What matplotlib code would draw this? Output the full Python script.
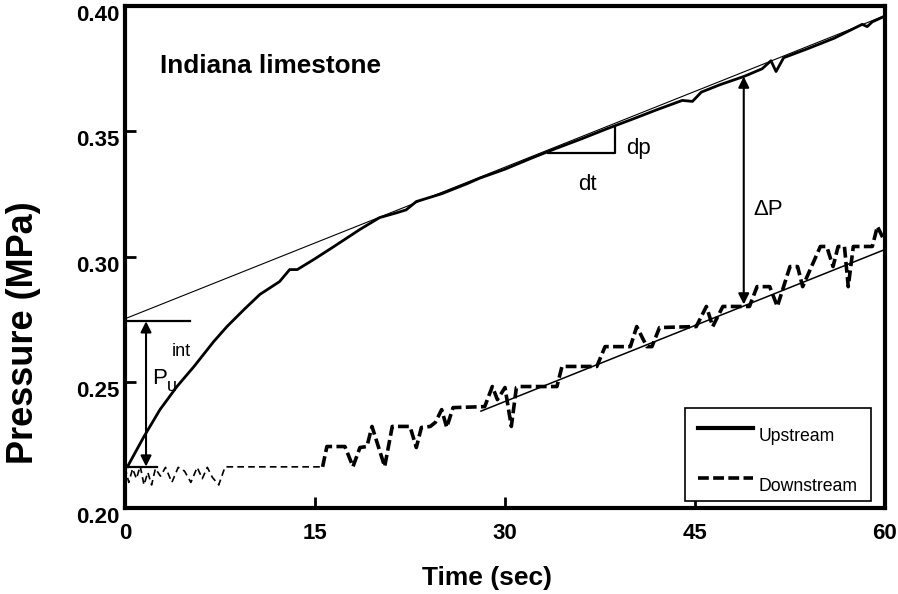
import matplotlib
matplotlib.use("Agg")
import matplotlib.pyplot as plt
from matplotlib.lines import Line2D
from matplotlib.transforms import ScaledTranslation

plt.rcParams['font.family'] = ['Liberation Sans', 'DejaVu Sans']

# ---------------- data ----------------
up_t = [0.2, 1.5, 2.76, 4.1, 5.45, 7.0, 8.05, 9.4, 10.65, 12.2, 13.0, 13.6, 14.9,
        16.5, 18.55, 20.1, 21.5, 22.2, 23.0, 25.0, 27.0, 28.0, 30.0, 32.0, 34.0,
        36.0, 38.0, 40.0, 42.0, 44.0, 44.8, 45.5, 47.0, 48.9, 50.3, 51.0, 51.4,
        52.0, 54.0, 56.0, 58.2, 58.6, 59.0, 60.0]
up_p = [0.2163, 0.2283, 0.2390, 0.2482, 0.2562, 0.2661, 0.2721, 0.2789, 0.2849,
        0.2900, 0.2948, 0.2948, 0.2988, 0.3040, 0.3108, 0.3155, 0.3175, 0.3186,
        0.3219, 0.3250, 0.3290, 0.3312, 0.3348, 0.3390, 0.3430, 0.3468, 0.3508,
        0.3546, 0.3585, 0.3622, 0.3618, 0.3655, 0.3685, 0.3718, 0.3748, 0.3780,
        0.3737, 0.3792, 0.3830, 0.3870, 0.3925, 0.3916, 0.3935, 0.3958]

# downstream: early noisy part
dn0_t = [0.0, 0.3, 0.6, 0.9, 1.2, 1.5, 1.8, 2.1, 2.4, 2.8, 3.2, 3.7, 4.2, 4.7,
         5.2, 5.7, 6.1, 6.5, 6.9, 7.4, 7.9, 15.6]
dn0_p = [0.2160, 0.2100, 0.2155, 0.2115, 0.2165, 0.2090, 0.2140, 0.2090, 0.2155,
         0.2125, 0.2160, 0.2100, 0.2160, 0.2145, 0.2100, 0.2160, 0.2115, 0.2160,
         0.2120, 0.2090, 0.2162, 0.2162]
# downstream: later part
dn_t = [15.6, 15.94, 17.36, 18.0, 18.55, 19.1, 19.5, 20.5, 21.1, 22.5, 23.0, 23.4,
        24.1, 24.5, 25.0, 25.4, 25.9, 28.4, 29.0, 29.4, 30.0, 30.5, 30.9, 31.2,
        34.1, 34.5, 37.25, 37.9, 39.9, 40.4, 41.2, 41.6, 42.2, 45.1, 45.9, 46.4,
        47.2, 49.3, 49.9, 50.9, 51.5, 52.5, 53.1, 53.5, 54.9, 55.4, 55.9, 56.3,
        56.8, 57.1, 57.5, 59.0, 59.4, 59.9]
dn_p = [0.2162, 0.2243, 0.2243, 0.2163, 0.2239, 0.2243, 0.2323, 0.2163, 0.2323,
        0.2323, 0.2239, 0.2319, 0.2323, 0.2339, 0.2390, 0.2319, 0.2398, 0.2402,
        0.2482, 0.2430, 0.2478, 0.2323, 0.2478, 0.2482, 0.2482, 0.2562, 0.2562,
        0.2641, 0.2641, 0.2721, 0.2641, 0.2641, 0.2717, 0.2721, 0.2801, 0.2721,
        0.2801, 0.2801, 0.2880, 0.2880, 0.2801, 0.2960, 0.2960, 0.2880, 0.3040,
        0.3040, 0.2960, 0.3040, 0.3040, 0.2880, 0.3040, 0.3040, 0.3120, 0.3068]

# fitted straight lines
tan_t = [0.0, 60.0]
tan_p = [0.2752, 0.3960]
dfit_t = [28.1, 60.0]
dfit_p = [0.2384, 0.3028]

# annotation values
p_int = 0.2742
p_start = 0.2163
dP_t = 48.85
dP_top = 0.3717
dP_bot = 0.2809
tri_t = [33.4, 38.7, 38.7]
tri_p = [0.3414, 0.3414, 0.3514]

xticks = [0, 15, 30, 45, 60]
yticks = [0.20, 0.25, 0.30, 0.35, 0.40]

# ---------------- figure ----------------
fig = plt.figure(figsize=(8.98, 5.94), dpi=100)
ax = fig.add_axes([0.1392, 0.1456, 0.8463, 0.8451])

ax.plot(tan_t, tan_p, color='k', lw=0.8)
ax.plot(up_t, up_p, color='k', lw=2.0, solid_joinstyle='round')
ax.plot(dn0_t, dn0_p, color='k', lw=1.2, linestyle=(0, (4, 2.5)))
ax.plot(dn_t, dn_p, color='k', lw=2.6, linestyle=(0, (3.0, 1.2)))
ax.plot(dfit_t, dfit_p, color='k', lw=1.1)

# P_int construction
ax.plot([0, 5.13], [p_int, p_int], color='k', lw=1.6)
ax.plot([0, 2.5], [p_start, p_start], color='k', lw=1.6)
ax.annotate('', xy=(1.66, p_int), xytext=(1.66, p_start),
            arrowprops=dict(arrowstyle='<|-|>', color='k', lw=1.5,
                            mutation_scale=16, shrinkA=0, shrinkB=0))
ax.text(2.13, 0.2514, 'P', fontsize=16, va='center', ha='left')
ax.text(3.3, 0.2482, 'u', fontsize=13, va='center', ha='left')
ax.text(3.7, 0.2622, 'int', fontsize=13, va='center', ha='left')

# dp/dt triangle
ax.plot(tri_t, tri_p, color='k', lw=1.6)
ax.text(39.6, 0.3430, 'dp', fontsize=16, va='center', ha='left')
ax.text(35.75, 0.3287, 'dt', fontsize=16, va='center', ha='left')

# Delta P
ax.annotate('', xy=(dP_t, dP_top), xytext=(dP_t, dP_bot),
            arrowprops=dict(arrowstyle='<|-|>', color='k', lw=1.5,
                            mutation_scale=16, shrinkA=0, shrinkB=0))
ax.text(49.6, 0.3187, '\u0394P', fontsize=16, va='center', ha='left')

ax.text(2.76, 0.3733, 'Indiana limestone', fontsize=18.8, fontweight='bold',
        va='baseline', ha='left')

# axes styling
ax.set_xlim(0, 60)
ax.set_ylim(0.20, 0.40)
ax.set_xticks(xticks)
ax.set_xticklabels([str(v) for v in xticks])
ax.set_yticks(yticks)
ax.set_yticklabels([f'{v:.2f}' for v in yticks])
for s in ax.spines.values():
    s.set_linewidth(3)
ax.tick_params(direction='in', length=8, width=2, top=False, right=False,
               labelsize=16)
ax.tick_params(axis='x', pad=11)
ax.tick_params(axis='y', pad=4)
shift = ScaledTranslation(0, -7 / 100, fig.dpi_scale_trans)
for lab in ax.get_xticklabels() + ax.get_yticklabels():
    lab.set_fontweight('bold')
for lab in ax.get_yticklabels():
    lab.set_transform(lab.get_transform() + shift)

ax.set_xlabel('Time (sec)', fontsize=19, fontweight='bold')
ax.xaxis.set_label_coords(0.476, -0.14)
ax.xaxis.label.set_va('center')
ax.set_ylabel('Pressure (MPa)', fontsize=26, fontweight='bold')
ax.yaxis.set_label_coords(-0.133, 0.348)
ax.yaxis.label.set_va('center')

handles = [Line2D([], [], color='k', lw=3.0),
           Line2D([], [], color='k', lw=2.6, linestyle=(0, (3.0, 1.2)))]
leg = ax.legend(handles, ['Upstream', 'Downstream'], loc='lower left',
                bbox_to_anchor=(0.737, 0.012), fontsize=12.7, frameon=True,
                fancybox=False, edgecolor='k', framealpha=1,
                handlelength=3.1, handletextpad=0.3, labelspacing=1.9,
                borderpad=0.75, borderaxespad=0)
leg.get_frame().set_linewidth(1.2)
tshift = ScaledTranslation(0, -7 / 100, fig.dpi_scale_trans)
for txt in leg.get_texts():
    txt.set_transform(txt.get_transform() + tshift)

fig.savefig('out.png', dpi=100)
